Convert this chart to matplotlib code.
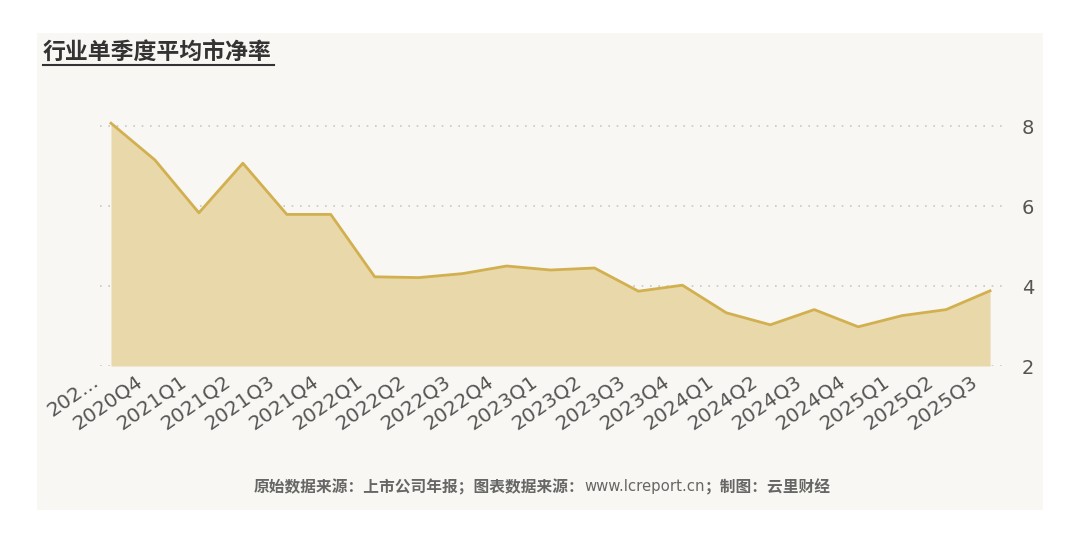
import matplotlib.pyplot as plt
from matplotlib.patches import Rectangle
from matplotlib.text import Annotation
from matplotlib.transforms import offset_copy

plt.rcParams['font.family'] = ['Noto Sans CJK SC', 'DejaVu Sans']

# 季度标签（第一个在原图中被截断）
quarters = ['202...', '2020Q4', '2021Q1', '2021Q2', '2021Q3', '2021Q4',
            '2022Q1', '2022Q2', '2022Q3', '2022Q4', '2023Q1', '2023Q2',
            '2023Q3', '2023Q4', '2024Q1', '2024Q2', '2024Q3', '2024Q4',
            '2025Q1', '2025Q2', '2025Q3']
pb = [8.07, 7.15, 5.83, 7.07, 5.79, 5.79, 4.23, 4.21, 4.31, 4.50, 4.40,
      4.45, 3.87, 4.02, 3.33, 3.03, 3.41, 2.98, 3.26, 3.41, 3.88]
yticks = [2, 4, 6, 8]

W, H = 1080, 545
fig = plt.figure(figsize=(W / 100, H / 100), dpi=100)
fig.patch.set_facecolor('white')

# 背景面板
fig.patches.append(Rectangle((37 / W, 1 - 510 / H), (1043 - 37) / W, (510 - 33) / H,
                             transform=fig.transFigure, facecolor='#f8f7f3',
                             edgecolor='none', zorder=-5))

# 坐标轴区域：x 100..1005, y 366(=2) 上到约 100
ax = fig.add_axes([100 / W, 1 - 366 / H, (1005 - 100) / W, (366 - 100) / H])
ax.set_facecolor('none')
ax.set_zorder(1)

x = list(range(len(quarters)))
ax.fill_between(x, 2, pb, color='#e8d8aa', linewidth=0, zorder=2)
ax.plot(x, pb, color='#d2b050', linewidth=2, zorder=3)

ax.set_xlim(-0.25, 20.34)
ax.set_ylim(2, 8.65)
ax.set_yticks(yticks)
ax.set_yticklabels([str(v) for v in yticks], family=['DejaVu Sans'])
ax.yaxis.tick_right()
ax.tick_params(axis='y', length=0, pad=12, labelsize=14, labelcolor='#555555')
ax.set_xticks(x)
ax.set_xticklabels([])
ax.tick_params(axis='x', length=0)

# x 轴标签：稍向左下偏移，斜放
lab_tr = offset_copy(ax.get_xaxis_transform(), fig=fig, x=-20, y=-6, units='dots')
for i, q in enumerate(quarters):
    ax.text(i, 0, q, transform=lab_tr, rotation=35, ha='right', va='top',
            rotation_mode='anchor', fontsize=14.5, color='#555555',
            family=['DejaVu Sans'])

for v in yticks:
    ax.axhline(v, color='#c8c8c8', linestyle=(0, (1, 4)), linewidth=1.2, zorder=1)
for s in ax.spines.values():
    s.set_visible(False)

# 标题（带下划线）
fig.text(43 / W, 1 - 52 / H, '行业单季度平均市净率', fontsize=16.5, color='#333333',
         va='center', ha='left', fontweight='bold')
fig.add_artist(plt.Line2D([43 / W, 274 / W], [1 - 65 / H, 1 - 65 / H],
                          transform=fig.transFigure, color='#333333', linewidth=1.5))

# 数据来源
t1 = fig.text(254 / W, 1 - 487 / H, '原始数据来源：上市公司年报；图表数据来源：',
              fontsize=11.3, fontweight='bold', color='#666666', va='center', ha='left')
t2 = Annotation('www.lcreport.cn', xy=(1, 0.5), xycoords=t1, va='center', ha='left',
                fontsize=10.7, color='#666666', family=['DejaVu Sans'])
fig.add_artist(t2)
t3 = Annotation('；制图：云里财经', xy=(1, 0.5), xycoords=t2, va='center', ha='left',
                fontsize=11.3, fontweight='bold', color='#666666')
fig.add_artist(t3)

fig.savefig('out.png', dpi=100)
